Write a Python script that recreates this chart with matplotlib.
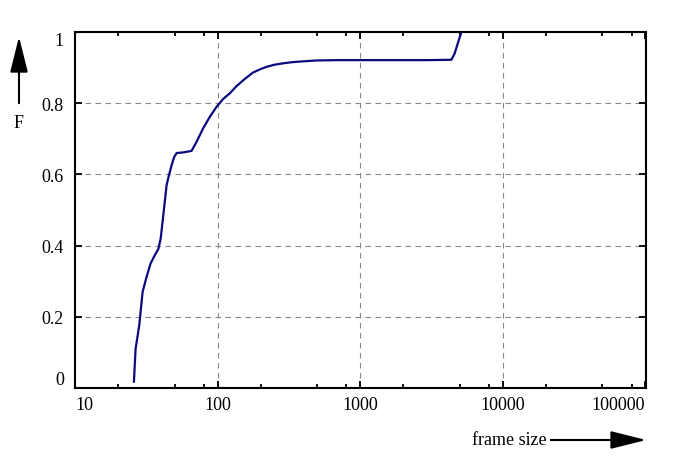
import matplotlib.pyplot as plt
from matplotlib.ticker import LogLocator, FixedLocator, NullFormatter

plt.rcParams['font.family'] = ['Liberation Serif', 'DejaVu Serif']

# cumulative distribution of frame sizes
frame_size = [25.9, 26.6, 28.2, 29.8, 31.5, 33.9, 36.5, 38.4, 39.9, 41.6,
              43.9, 45.1, 47.6, 49.5, 51.6, 58.0, 65.7, 71.3, 79.3, 88.3,
              98.4, 109.4, 122, 135.8, 155, 177, 198, 220, 250, 288,
              330, 378, 494, 700, 993, 1893, 3000, 4360, 4600, 4850, 5130]
F = [0.018, 0.11, 0.175, 0.27, 0.307, 0.35, 0.375, 0.39, 0.42, 0.485,
     0.57, 0.59, 0.626, 0.648, 0.660, 0.662, 0.666, 0.692, 0.73, 0.762,
     0.79, 0.812, 0.828, 0.848, 0.868, 0.886, 0.895, 0.902, 0.908, 0.912,
     0.915, 0.917, 0.92, 0.921, 0.921, 0.921, 0.921, 0.922, 0.94, 0.97, 1.0]

x_ticks = [10, 100, 1000, 10000, 100000]
x_tick_labels = ['10', '100', '1000', '10000', '100000']
y_ticks = [0, 0.2, 0.4, 0.6, 0.8, 1]
y_tick_labels = ['0', '0.2', '0.4', '0.6', '0.8', '1']

fig = plt.figure(figsize=(6.97, 4.60), dpi=100)
ax = fig.add_axes([75/697, 71/460, 571/697, 356/460])

ax.plot(frame_size, F, color='#0a0a80', linewidth=1.6)

ax.set_xscale('log')
ax.set_xlim(10, 101000)
ax.set_ylim(0, 1)

ax.xaxis.set_major_locator(FixedLocator(x_ticks))
ax.set_xticklabels(x_tick_labels)
ax.xaxis.set_minor_locator(LogLocator(base=10, subs=(2, 5, 8)))
ax.xaxis.set_minor_formatter(NullFormatter())
ax.set_yticks(y_ticks)
ax.set_yticklabels(y_tick_labels)

ax.tick_params(which='both', direction='in', top=True, right=True,
               labelsize=13, width=1.3)
ax.tick_params(which='major', length=5)
ax.tick_params(axis='x', which='major', pad=6)
ax.tick_params(axis='y', which='major', pad=8)
ax.tick_params(which='minor', length=3)

# end labels are kept inside the frame
ylabels = ax.get_yticklabels()
ylabels[0].set_va('bottom')
ylabels[-1].set_va('top')
xlabels = ax.get_xticklabels()
xlabels[0].set_ha('left')
xlabels[-1].set_ha('right')

for s in ax.spines.values():
    s.set_linewidth(1.5)

ax.grid(True, which='major', linestyle=(0, (5, 4)), color='#888888', linewidth=0.8)

# axis arrows drawn as annotations in figure pixels
arrow = dict(arrowstyle='-|>,head_length=2.2,head_width=0.55',
             color='black', linewidth=1.5)
fig.text(19/697, 1 - 123/460, 'F', fontsize=13, ha='center', va='center')
ax.annotate('', xy=(19/697, 1 - 35/460), xytext=(19/697, 1 - 107/460),
            xycoords='figure fraction', textcoords='figure fraction',
            arrowprops=arrow)
fig.text(547/697, 1 - 441/460, 'frame size', fontsize=13, ha='right', va='center')
ax.annotate('', xy=(649/697, 1 - 441/460), xytext=(548/697, 1 - 441/460),
            xycoords='figure fraction', textcoords='figure fraction',
            arrowprops=arrow)

fig.savefig('out.png', dpi=100)
